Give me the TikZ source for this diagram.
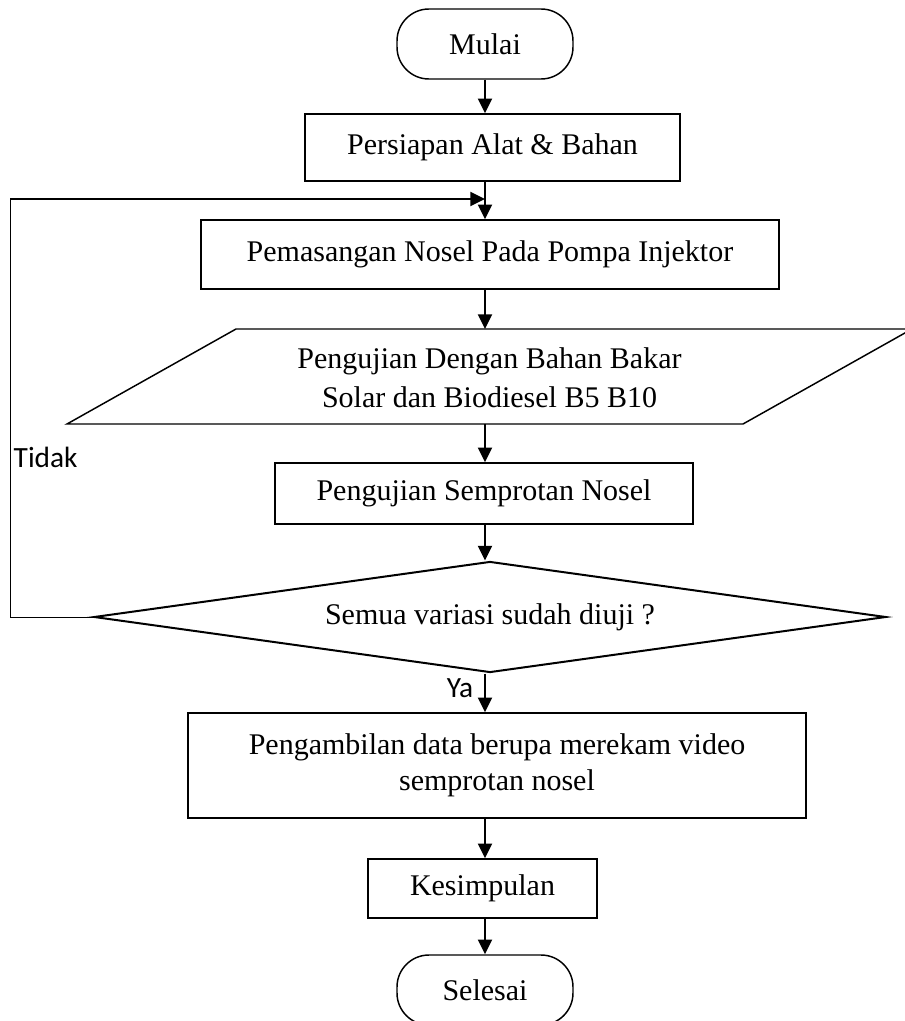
\documentclass[tikz,border=0pt]{standalone}
\usepackage{fontspec}
\setmainfont{Liberation Serif}
\newfontfamily\labelfont{Carlito}
\usetikzlibrary{shapes.geometric, arrows.meta}

\begin{document}
\begin{tikzpicture}[x=0.75pt, y=-0.75pt, line width=1.1pt,
    every node/.style={font=\fontsize{22.5}{29}\selectfont, inner sep=0},
    terminal/.style={draw, rectangle, rounded corners=24pt,
        minimum width=132pt, minimum height=52.5pt},
    process/.style={draw, rectangle, align=center},
    decision/.style={draw, diamond, aspect=7, line width=1.5pt,
        minimum width=594pt, minimum height=83.25pt},
    flow/.style={-{Triangle[width=10.5pt, length=11pt]}, line width=1.5pt},
    answer/.style={font=\labelfont\fontsize{22}{26}\selectfont}]

    \useasboundingbox (0, 0) rectangle (904, 1021);

    \node[terminal] (mulai) at (485, 44) {Mulai};
    \node[process, minimum width=281.25pt, minimum height=50.25pt]
        (persiapan) at (492.5, 147.5) {Persiapan Alat \& Bahan};
    \node[process, minimum width=433.5pt, minimum height=51.75pt]
        (pemasangan) at (490, 254.5) {Pemasangan Nosel Pada Pompa Injektor};

    \draw (67, 424) coordinate (uji-bl) -- (236, 329) coordinate (uji-tl)
        -- (912, 329) coordinate (uji-tr) -- (743, 424) coordinate (uji-br) -- cycle;
    \node[align=center] (uji) at (489.5, 378)
        {Pengujian Dengan Bahan Bakar\\Solar dan Biodiesel B5 B10};

    \node[process, minimum width=313.5pt, minimum height=45.75pt]
        (semprot) at (484, 493.5) {Pengujian Semprotan Nosel};
    \node[decision] (cek) at (490, 617) {Semua variasi sudah diuji ?};
    \node[process, minimum width=463.5pt, minimum height=78.75pt,
        font=\fontsize{22.5}{27}\selectfont]
        (ambil) at (497, 765.5) {Pengambilan data berupa merekam video\\semprotan nosel};
    \node[process, minimum width=171.75pt, minimum height=44.25pt]
        (simpul) at (482.5, 888.5) {Kesimpulan};
    \node[terminal] (selesai) at (485, 990) {Selesai};

    \draw[flow] (mulai) -- (persiapan.north -| mulai);
    \draw[flow] (persiapan.south -| mulai) -- (pemasangan.north -| mulai);
    \draw[flow] (pemasangan.south -| mulai) -- (uji-tl -| mulai);
    \draw[flow] (uji-bl -| mulai) -- (semprot.north -| mulai);
    \draw[flow] (semprot.south -| mulai) -- (cek.north -| mulai);
    \draw[flow] (cek.south -| mulai) -- (ambil.north -| mulai);
    \draw[flow] (ambil.south -| mulai) -- (simpul.north -| mulai);
    \draw[flow] (simpul.south -| mulai) -- (selesai);

    \coordinate (balik-b) at (10, 617);
    \coordinate (balik-t) at (10, 199);
    \draw[thin] (cek.west) -- (balik-b) -- (balik-t);
    \draw[flow] (balik-t) -- (balik-t -| mulai);

    \node[answer, anchor=base west] (tidak) at (13, 467) {Tidak};
    \node[answer, anchor=base east] (ya) at (474, 697) {Ya};
\end{tikzpicture}
\end{document}
